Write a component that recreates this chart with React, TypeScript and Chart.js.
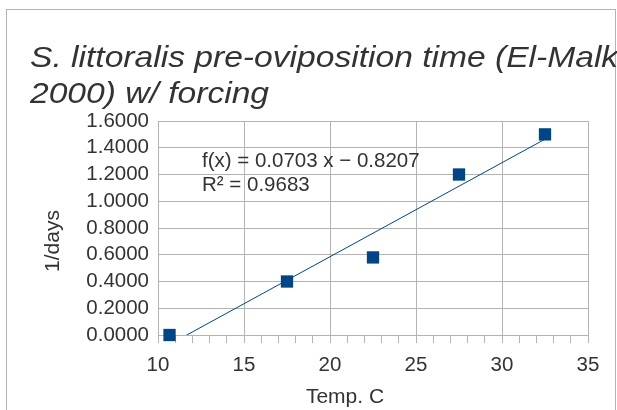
import { useEffect, useRef } from 'react';
import { Chart, registerables } from 'chart.js';

Chart.register(...registerables);

// ---- data ----
const tempC = [10.67, 17.5, 22.5, 27.5, 32.5];
const rateInvDays = [0, 0.4, 0.58, 1.2, 1.5];
const trendSlope = 0.0703;
const trendIntercept = -0.8207;
const rSquared = 0.9683;
const titleLines = ['S. littoralis pre-oviposition time (El-Malki', '2000) w/ forcing'];
const xAxisTitle = 'Temp. C';
const yAxisTitle = '1/days';
const xRange = [10, 35];
const xMajorStep = 5;
const xMinorStep = 1;
const yRange = [0, 1.6];
const yStep = 0.2;

const SERIES = '#004586';
const GRID = '#b3b3b3';
const TEXT = '#333333';
const FONT = '"Liberation Sans", Arial, sans-serif';

document.body.style.margin = '0';

const decorPlugin = {
  id: 'decor',
  beforeDraw(chart: any) {
    const ctx = chart.ctx as CanvasRenderingContext2D;
    ctx.save();
    ctx.fillStyle = '#ffffff';
    ctx.fillRect(0, 0, chart.width, chart.height);
    ctx.strokeStyle = GRID;
    ctx.lineWidth = 1;
    ctx.strokeRect(6.5, 9.5, 609, 430);
    ctx.restore();
  },
  afterDraw(chart: any) {
    const ctx = chart.ctx as CanvasRenderingContext2D;
    const a = chart.chartArea;
    ctx.save();
    ctx.fillStyle = TEXT;
    // title
    ctx.font = `italic 30px ${FONT}`;
    ctx.textBaseline = 'alphabetic';
    ctx.textAlign = 'left';
    titleLines.forEach((line, i) => {
      ctx.save();
      ctx.translate(30, 66.7 + i * 36.6);
      ctx.scale(1.12, 1);
      ctx.fillText(line, 0, 0);
      ctx.restore();
    });
    // regression equation
    ctx.font = `20.5px ${FONT}`;
    const eq = `f(x) = ${trendSlope.toFixed(4)} x \u2212 ${Math.abs(trendIntercept).toFixed(4)}`;
    const r2 = `R\u00b2 = ${rSquared.toFixed(4)}`;
    ctx.fillText(eq, a.left + 44, a.top + 46);
    ctx.fillText(r2, a.left + 44, a.top + 69.5);
    // axis titles
    ctx.font = `21px ${FONT}`;
    ctx.textAlign = 'center';
    ctx.fillText(xAxisTitle, (a.left + a.right) / 2 - 28, 403.3);
    ctx.save();
    ctx.translate(a.left - 105, (a.top + a.bottom) / 2 + 13);
    ctx.rotate(-Math.PI / 2);
    ctx.textBaseline = 'middle';
    ctx.fillText(yAxisTitle, 0, 0);
    ctx.restore();
    ctx.restore();
  },
};

export default function App() {
  const ref = useRef<HTMLCanvasElement | null>(null);
  useEffect(() => {
    if (!ref.current) return;
    const points = tempC.map((x, i) => ({ x, y: rateInvDays[i] }));
    const x0 = Math.min(...tempC);
    const x1 = Math.max(...tempC);
    const trend = [
      { x: x0, y: trendSlope * x0 + trendIntercept },
      { x: x1, y: trendSlope * x1 + trendIntercept },
    ];
    const chart = new Chart(ref.current, {
      type: 'scatter',
      data: {
        datasets: [
          {
            label: 'data',
            data: points,
            pointStyle: 'rect',
            pointRadius: 8.7,
            pointHoverRadius: 8.7,
            backgroundColor: SERIES,
            borderColor: SERIES,
            borderWidth: 0,
            showLine: false,
            clip: false as any,
          },
          {
            label: 'trend',
            data: trend,
            showLine: true,
            borderColor: SERIES,
            borderWidth: 1,
            pointRadius: 0,
            pointHoverRadius: 0,
            fill: false,
          },
        ],
      },
      plugins: [decorPlugin],
      options: {
        responsive: false,
        animation: false,
        devicePixelRatio: 1,
        layout: { padding: { top: 121, right: 29, bottom: 0, left: 0 } },
        plugins: {
          legend: { display: false },
          tooltip: { enabled: false },
          title: { display: false },
        },
        font: { family: FONT },
        scales: {
          x: {
            type: 'linear',
            min: xRange[0],
            max: xRange[1],
            afterFit: (s: any) => {
              s.height = 75;
            },
            ticks: {
              stepSize: xMinorStep,
              autoSkip: false,
              maxRotation: 0,
              padding: 10,
              color: TEXT,
              font: { family: FONT, size: 20.5 },
              callback: (v: any) => (Math.abs(Number(v) % xMajorStep) < 1e-9 ? String(v) : ''),
            },
            grid: {
              color: (c: any) =>
                c.tick && Math.abs(c.tick.value % xMajorStep) < 1e-9 ? GRID : 'rgba(0,0,0,0)',
              tickColor: GRID,
              tickLength: 8,
              lineWidth: 1,
            },
            border: { color: GRID },
          },
          y: {
            type: 'linear',
            min: yRange[0],
            max: yRange[1],
            afterFit: (s: any) => {
              s.width = 158;
            },
            ticks: {
              stepSize: yStep,
              autoSkip: false,
              padding: 9,
              color: TEXT,
              font: { family: FONT, size: 20.5 },
              callback: (v: any) => Number(v).toFixed(4),
            },
            grid: { color: GRID, drawTicks: false, lineWidth: 1 },
            border: { color: GRID },
          },
        },
      },
    });
    return () => chart.destroy();
  }, []);
  return (
    <div style={{ width: 617, height: 410 }}>
      <canvas ref={ref} width={617} height={410} style={{ display: 'block' }} />
    </div>
  );
}
